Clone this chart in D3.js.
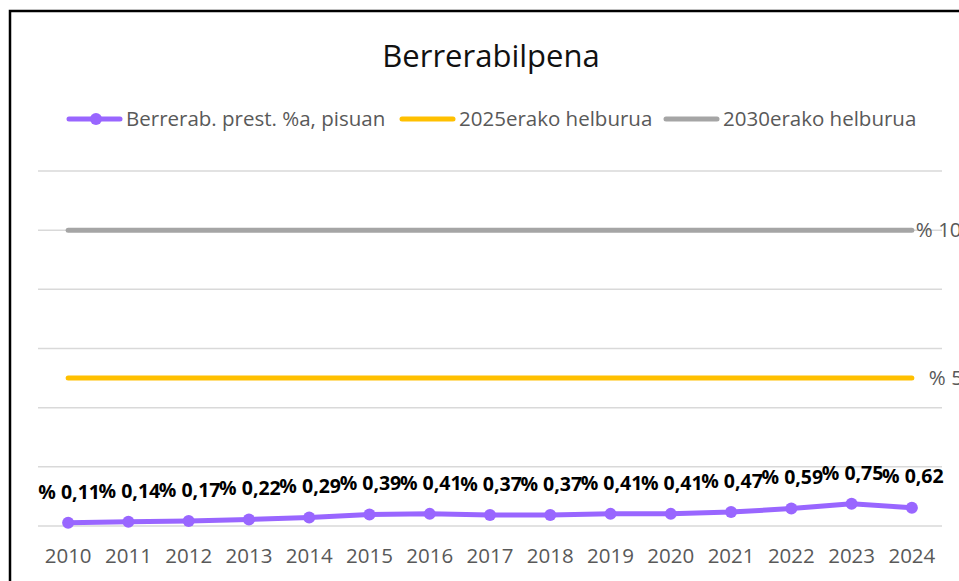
<!DOCTYPE html>
<html>
<head>
<meta charset="utf-8">
<script src="https://cdn.jsdelivr.net/npm/d3@7"></script>
<style>
  body { margin: 0; background: #fff; }
  text { font-family: "Open Sans", sans-serif; }
</style>
</head>
<body>
<div id="chart"></div>
<script>
// data
var years = ["2010", "2011", "2012", "2013", "2014", "2015", "2016", "2017", "2018", "2019", "2020", "2021", "2022", "2023", "2024"];
var reuseRate = [0.11, 0.14, 0.17, 0.22, 0.29, 0.39, 0.41, 0.37, 0.37, 0.41, 0.41, 0.47, 0.59, 0.75, 0.62];
var target2025 = [5, 5, 5, 5, 5, 5, 5, 5, 5, 5, 5, 5, 5, 5, 5];
var target2030 = [10, 10, 10, 10, 10, 10, 10, 10, 10, 10, 10, 10, 10, 10, 10];
var seriesNames = ["Berrerab. prest. %a, pisuan", "2025erako helburua", "2030erako helburua"];
var yTicks = [0, 2, 4, 6, 8, 10, 12];

var width = 959, height = 581;

var svg = d3.select("#chart")
    .append("svg")
    .attr("width", width)
    .attr("height", height);

// frame
svg.append("rect")
    .attr("x", 10).attr("y", 11)
    .attr("width", 980).attr("height", 600)
    .attr("fill", "#fff")
    .attr("stroke", "#000")
    .attr("stroke-width", 2.5);

// title
svg.append("text")
    .attr("x", 491).attr("y", 67)
    .attr("text-anchor", "middle")
    .attr("font-size", 31)
    .attr("fill", "#111")
    .text("Berrerabilpena");

// scales
var x = d3.scaleBand()
    .domain(years)
    .range([38, 942])
    .padding(0);
var cx = function (d) { return x(d) + x.bandwidth() / 2; };

var y = d3.scaleLinear()
    .domain([0, 12])
    .range([526, 171]);

// gridlines
svg.append("g")
    .selectAll("line")
    .data(yTicks)
    .enter().append("line")
    .attr("x1", 38).attr("x2", 942)
    .attr("y1", function (d) { return y(d); })
    .attr("y2", function (d) { return y(d); })
    .attr("stroke", "#d9d9d9")
    .attr("stroke-width", 1.5);

// x axis labels
var xAxis = svg.append("g")
    .attr("transform", "translate(0,526)")
    .call(d3.axisBottom(x).tickSize(0).tickPadding(22));
xAxis.select(".domain").remove();
xAxis.selectAll("text")
    .attr("font-family", "'Open Sans', sans-serif")
    .attr("font-size", 20.5)
    .attr("fill", "#595959");

var line = d3.line()
    .x(function (d, i) { return cx(years[i]); })
    .y(function (d) { return y(d); });

var colors = ["#9966ff", "#ffc000", "#a5a5a5"];

// target lines
[target2030, target2025].forEach(function (vals, k) {
    svg.append("path")
        .datum(vals)
        .attr("d", line)
        .attr("fill", "none")
        .attr("stroke", k == 0 ? colors[2] : colors[1])
        .attr("stroke-width", 5)
        .attr("stroke-linecap", "round");
});

// end labels of target lines (cut by the frame edge, as in the original)
var last = years.length - 1;
svg.append("text")
    .attr("x", cx(years[last]) + 4)
    .attr("y", y(target2030[last]))
    .attr("dy", "0.35em")
    .attr("font-size", 20.5)
    .attr("fill", "#595959")
    .text("% " + target2030[last]);
svg.append("text")
    .attr("x", cx(years[last]) + 17)
    .attr("y", y(target2025[last]))
    .attr("dy", "0.35em")
    .attr("font-size", 20.5)
    .attr("fill", "#595959")
    .text("% " + target2025[last]);

// reuse series
svg.append("path")
    .datum(reuseRate)
    .attr("d", line)
    .attr("fill", "none")
    .attr("stroke", colors[0])
    .attr("stroke-width", 5)
    .attr("stroke-linejoin", "round")
    .attr("stroke-linecap", "round");

svg.append("g")
    .selectAll("circle")
    .data(reuseRate)
    .enter().append("circle")
    .attr("cx", function (d, i) { return cx(years[i]); })
    .attr("cy", function (d) { return y(d); })
    .attr("r", 6)
    .attr("fill", colors[0]);

var fmt = function (v) { return "% " + d3.format(".2f")(v).replace(".", ","); };
svg.append("g")
    .selectAll("text")
    .data(reuseRate)
    .enter().append("text")
    .attr("x", function (d, i) { return cx(years[i]) + 1; })
    .attr("y", function (d) { return y(d) - 31; })
    .attr("dy", "0.35em")
    .attr("text-anchor", "middle")
    .attr("font-size", 19.5)
    .attr("font-weight", "bold")
    .attr("fill", "#000")
    .text(fmt);

// legend
var legendItems = [
    { name: seriesNames[0], color: colors[0], x: 67, marker: true },
    { name: seriesNames[1], color: colors[1], x: 400, marker: false },
    { name: seriesNames[2], color: colors[2], x: 664, marker: false }
];
var lg = svg.append("g").selectAll("g")
    .data(legendItems)
    .enter().append("g")
    .attr("transform", function (d) { return "translate(" + d.x + ",119)"; });
lg.append("line")
    .attr("x1", 2).attr("x2", 53)
    .attr("stroke", function (d) { return d.color; })
    .attr("stroke-width", 5)
    .attr("stroke-linecap", "round");
lg.filter(function (d) { return d.marker; })
    .append("circle")
    .attr("cx", 29).attr("r", 6)
    .attr("fill", function (d) { return d.color; });
lg.append("text")
    .attr("x", 59)
    .attr("dy", "0.35em")
    .attr("font-size", 20.5)
    .attr("fill", "#595959")
    .text(function (d) { return d.name; });
</script>
</body>
</html>
